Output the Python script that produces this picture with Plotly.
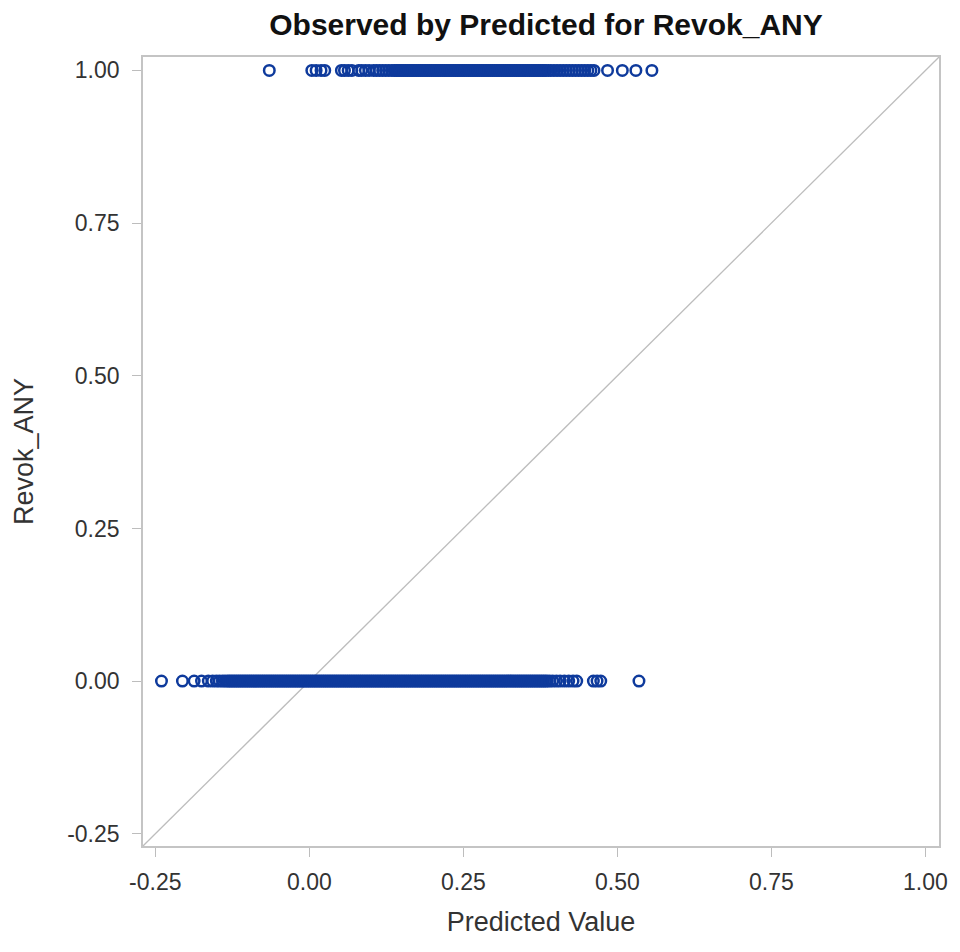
import plotly.graph_objects as go

# Observed = 1 : predicted values
pred_obs1 = [-0.065, 0.004, 0.011, 0.019, 0.025,
             0.052, 0.057, 0.063, 0.069, 0.080, 0.085, 0.091, 0.097, 0.104, 0.109,
             0.114, 0.119, 0.124, 0.129, 0.134, 0.138,
             0.141, 0.144, 0.147, 0.150, 0.153, 0.156, 0.159, 0.162, 0.165, 0.168,
             0.171, 0.174, 0.177, 0.180, 0.183, 0.186, 0.189, 0.192, 0.195, 0.198,
             0.201, 0.204, 0.207, 0.210, 0.213, 0.216, 0.219, 0.222, 0.225, 0.228,
             0.231, 0.234, 0.237, 0.240, 0.243, 0.246, 0.249, 0.252, 0.255, 0.258,
             0.261, 0.264, 0.267, 0.270, 0.273, 0.276, 0.279, 0.282, 0.285, 0.288,
             0.291, 0.294, 0.297, 0.300, 0.303, 0.306, 0.309, 0.312, 0.315, 0.318,
             0.321, 0.324, 0.327, 0.330, 0.333, 0.336, 0.339, 0.342, 0.345, 0.348,
             0.351, 0.354, 0.357, 0.360, 0.363, 0.366, 0.369, 0.372, 0.375, 0.378,
             0.381, 0.384, 0.388, 0.392, 0.397, 0.402, 0.407, 0.412, 0.417, 0.422,
             0.427, 0.432, 0.437, 0.442, 0.447, 0.452, 0.457, 0.462,
             0.484, 0.508, 0.530, 0.556]

# Observed = 0 : predicted values
pred_obs0 = [-0.240, -0.206, -0.187, -0.175, -0.164, -0.157, -0.151, -0.146, -0.141,
             -0.137, -0.133, -0.130, -0.127,
             -0.124, -0.121, -0.118, -0.115, -0.112, -0.109, -0.106, -0.103, -0.100,
             -0.097, -0.094, -0.091, -0.088, -0.085, -0.082, -0.079, -0.076, -0.073,
             -0.070, -0.067, -0.064, -0.061, -0.058, -0.055, -0.052, -0.049, -0.046,
             -0.043, -0.040, -0.037, -0.034, -0.031, -0.028, -0.025, -0.022, -0.019,
             -0.016, -0.013, -0.010, -0.007, -0.004, -0.001, 0.002, 0.005, 0.008,
             0.011, 0.014, 0.017, 0.020, 0.023, 0.026, 0.029, 0.032, 0.035, 0.038,
             0.041, 0.044, 0.047, 0.050, 0.053, 0.056, 0.059, 0.062, 0.065, 0.068,
             0.071, 0.074, 0.077, 0.080, 0.083, 0.086, 0.089, 0.092, 0.095, 0.098,
             0.101, 0.104, 0.107, 0.110, 0.113, 0.116, 0.119, 0.122, 0.125, 0.128,
             0.131, 0.134, 0.137, 0.140, 0.143, 0.146, 0.149, 0.152, 0.155, 0.158,
             0.161, 0.164, 0.167, 0.170, 0.173, 0.176, 0.179, 0.182, 0.185, 0.188,
             0.191, 0.194, 0.197, 0.200, 0.203, 0.206, 0.209, 0.212, 0.215, 0.218,
             0.221, 0.224, 0.227, 0.230, 0.233, 0.236, 0.239, 0.242, 0.245, 0.248,
             0.251, 0.254, 0.257, 0.260, 0.263, 0.266, 0.269, 0.272, 0.275, 0.278,
             0.281, 0.284, 0.287, 0.290, 0.293, 0.296, 0.299, 0.302, 0.305, 0.308,
             0.311, 0.314, 0.317, 0.320, 0.323, 0.326, 0.329, 0.332, 0.335, 0.338,
             0.341, 0.344, 0.347, 0.350, 0.353, 0.356, 0.359, 0.362, 0.365, 0.368,
             0.371, 0.374, 0.377, 0.380, 0.383, 0.386, 0.390, 0.395, 0.401, 0.407,
             0.414, 0.421, 0.428, 0.434, 0.461, 0.467, 0.473, 0.535]

tick_vals = [-0.25, 0.0, 0.25, 0.5, 0.75, 1.0]
tick_text = ["-0.25", "0.00", "0.25", "0.50", "0.75", "1.00"]
axis_range = [-0.27, 1.022]

x_all = pred_obs1 + pred_obs0
y_all = [1.0] * len(pred_obs1) + [0.0] * len(pred_obs0)

marker_color = "#0E3A9C"

fig = go.Figure()
fig.add_trace(go.Scatter(
    x=axis_range, y=axis_range, mode="lines",
    line=dict(color="#BDBDBD", width=1.3), hoverinfo="skip", showlegend=False))
fig.add_trace(go.Scatter(
    x=x_all, y=y_all, mode="markers",
    marker=dict(symbol="circle-open", size=10.5, color=marker_color,
                line=dict(width=2.5, color=marker_color)),
    showlegend=False))

font_family = "Liberation Sans, Arial, sans-serif"
axis_common = dict(
    range=axis_range, tickmode="array", tickvals=tick_vals, ticktext=tick_text,
    showgrid=False, zeroline=False, showline=True, mirror=True,
    linecolor="#C4C4C4", linewidth=1.6, ticks="outside", ticklen=9,
    tickcolor="#BDBDBD", tickwidth=1.3, ticklabeloverflow="allow",
    tickfont=dict(family=font_family, size=23, color="#333333"),
)

# Page body keeps its default 8px margin; the figure is sized to fit the window.
fig.update_layout(
    width=952, height=936,
    margin=dict(l=135, r=13, t=49, b=84),
    paper_bgcolor="white", plot_bgcolor="white",
    title=dict(text="<b>Observed by Predicted for Revok_ANY</b>",
               x=538 / 952, xanchor="center", y=1 - 16 / 936, yanchor="middle",
               font=dict(family=font_family, size=30, color="#111111")),
    xaxis=dict(**axis_common, ticklabelstandoff=6,
               title=dict(text="Predicted Value", standoff=18,
                          font=dict(family=font_family, size=27, color="#333333"))),
    yaxis=dict(**axis_common, ticklabelstandoff=8,
               title=dict(text="Revok_ANY", standoff=26,
                          font=dict(family=font_family, size=27, color="#333333"))),
)

fig.write_html("out.html", config={"displayModeBar": False})
